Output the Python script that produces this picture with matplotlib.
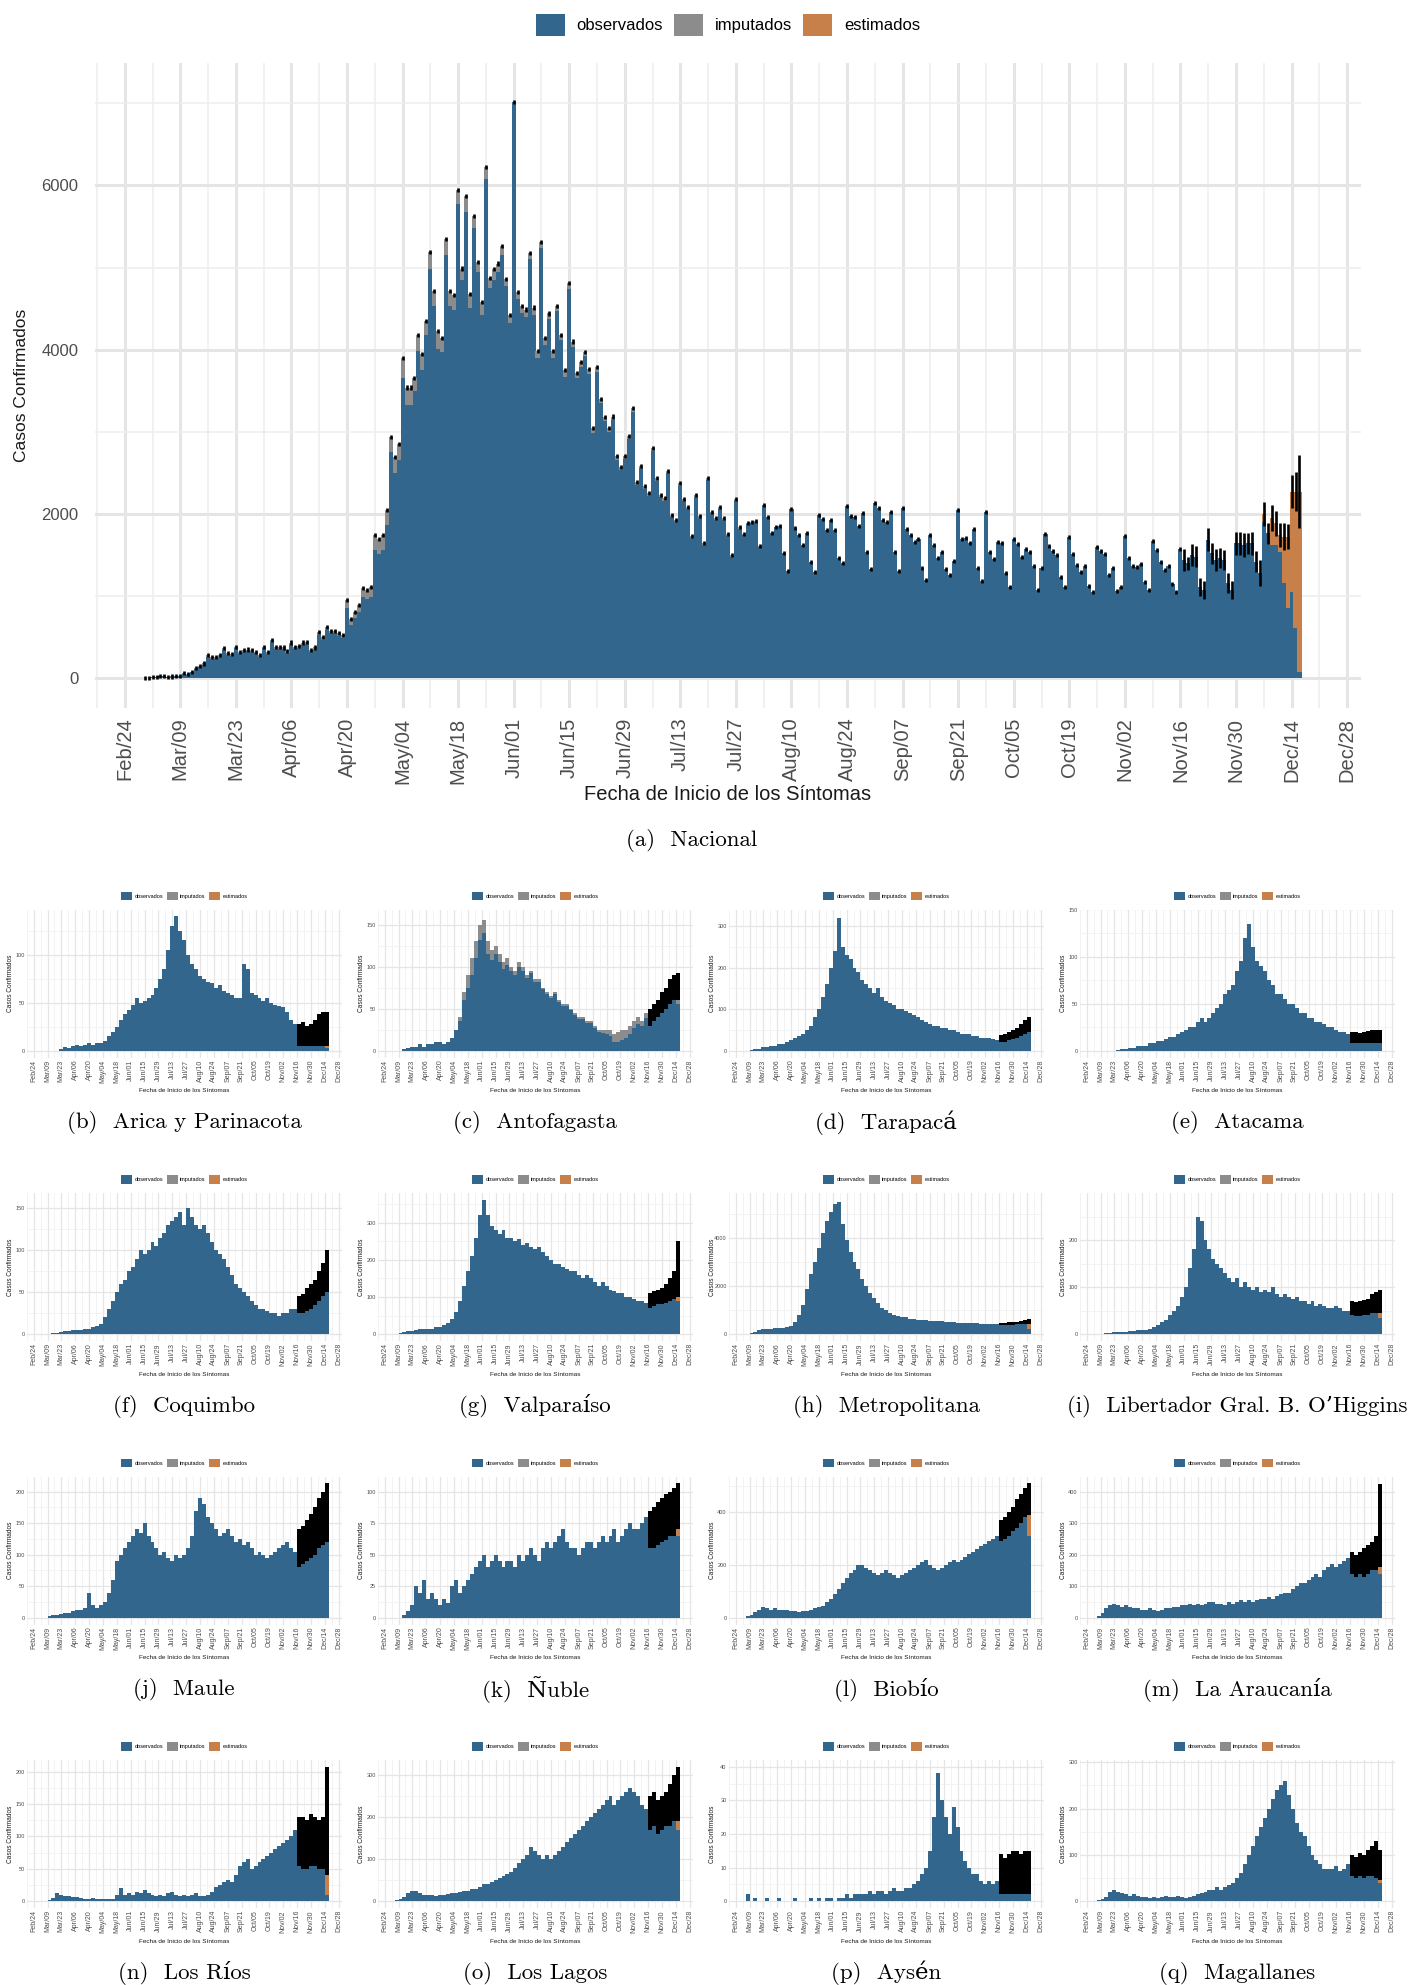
import numpy as np
import matplotlib.pyplot as plt
from matplotlib.patches import Patch

plt.rcParams['font.family'] = ['Liberation Sans', 'DejaVu Sans']

BLUE = '#33668C'
GRAY = '#8C8C8C'
ORANGE = '#C8804A'
TXT = '#4D4D4D'
SERIF = ['cmr10', 'DejaVu Serif']

# eje x: dias desde el 24 de febrero de 2020
tick_labels = ['Feb/24', 'Mar/09', 'Mar/23', 'Apr/06', 'Apr/20', 'May/04', 'May/18',
               'Jun/01', 'Jun/15', 'Jun/29', 'Jul/13', 'Jul/27', 'Aug/10', 'Aug/24',
               'Sep/07', 'Sep/21', 'Oct/05', 'Oct/19', 'Nov/02', 'Nov/16', 'Nov/30',
               'Dec/14', 'Dec/28']
legend_labels = ['observados', 'imputados', 'estimados']

# ---- Nacional: casos diarios (observados + imputados), desde Feb/29 (dia 5) a Dec/16
nac_first_day = 5
nac_total = [
    5, 8, 10, 12, 25, 30, 20, 22, 25, 30, 60, 50, 80, 120, 145, 180, 280,
    255, 255, 285, 365, 305, 295, 385, 315, 345, 350, 345, 325, 280, 385, 320, 466,
    385, 385, 375, 335, 435, 385, 395, 435, 445, 340, 375, 560, 500, 628, 580, 580,
    548, 528, 953, 722, 811, 893, 1095, 1075, 1115, 1745, 1692, 1745, 2049, 2941,
    2690, 2850,
    3895, 3539, 3539, 3658, 4180, 3943, 4346, 5187, 4717, 4228, 4147, 5344, 4712,
    4669, 5947, 4988, 5866, 4679, 5629, 5068, 4584, 6223, 4878, 4978, 5049, 5258,
    4859, 4418, 7020, 4703, 4536, 4489, 5178, 4513, 3981, 5306, 4147, 4441, 3981,
    4536, 4180, 3753, 4812,
    4099, 3721, 3855, 3977, 3762, 3044, 3786, 3397, 3177, 3052, 3186, 2707, 2577,
    2707, 2950, 3287, 2394, 2589, 2341, 2252, 2800, 2435, 2232, 2191, 2528, 1988,
    1928, 2374, 2179, 2082, 1733, 2232, 1976, 1652, 2435, 2029, 1948, 2082, 1948,
    1753, 1501, 2179, 1838, 1757, 1887, 1907, 1919, 1611,
    2110, 1960, 1773, 1846, 1859, 1522, 1311, 2061, 1826, 1745, 1623, 1765, 1420,
    1299, 1988, 1936, 1806, 1928, 1806, 1461, 1400, 2098, 1976, 1960, 1859, 2009,
    1542, 1327, 2130, 2070, 1928, 1907, 2021, 1542, 1311, 2078, 1814, 1745, 1656,
    1696, 1339, 1197, 1745, 1623, 1461, 1542, 1327, 1258, 1428, 2049,
    1696, 1704, 1652, 1818, 1347, 1185, 2029, 1542, 1453, 1664, 1643, 1286, 1116,
    1696, 1635, 1481, 1570, 1542, 1372, 1075, 1339, 1757, 1615, 1554, 1501, 1230,
    1108, 1725, 1514, 1380, 1290, 1367, 1124, 1055, 1603, 1554, 1514, 1258, 1339,
    1067, 1108, 1733, 1469, 1372, 1359, 1388, 1169, 1075,
    1676, 1562, 1420, 1319, 1367, 1148, 1047, 1574, 1440, 1400, 1500, 1480, 1116,
    1075, 1684, 1522, 1440, 1461, 1440, 1156, 1075, 1643, 1643, 1623, 1643, 1643,
    1420, 1278, 1900, 1765, 1623, 1623, 1542, 1157, 852, 1055, 609, 73,
]
# imputados (dias 5 a 160)
nac_imp = [
    0, 0, 0, 0, 2, 3, 2, 3, 3, 4, 6, 5, 8, 10, 12, 15,
    20, 20, 22, 25, 22, 20, 25, 22, 22, 25, 22, 22, 20, 25, 22, 30, 25, 25, 25, 22,
    30, 25, 25, 30, 30, 25, 25, 35, 30, 40, 35, 35, 35, 35, 35,
    100, 73, 80, 90, 110, 110, 120, 183, 183, 183, 183, 183, 190, 190,
    237, 214, 214, 166, 190, 190, 166, 200, 180, 214, 180, 190, 176, 180, 176, 143,
    190, 166, 143, 128, 166, 143, 128, 133, 109, 105, 86, 95, 0, 80, 95, 86, 80, 95,
    86, 71, 86, 71, 86, 71, 62, 80, 76,
    65, 60, 60, 55, 60, 55, 55, 50, 50, 50, 45, 45, 45, 40, 40, 40, 40, 35, 35, 35,
    35, 35, 30, 30, 30, 30, 30, 30, 25, 25, 25, 25, 25, 25, 20, 20, 20, 20, 20, 20,
    20, 20, 15, 15, 15, 15, 15, 15,
]
# estimados (ultimos 10 dias)
nac_est = [100, 0, 325, 264, 203, 568, 870, 1217, 1663, 2199]
# semiamplitud del intervalo (ultimos 31 dias)
nac_err = [30, 130, 80, 130, 130, 110, 110, 140, 130, 130, 120, 120, 120, 110, 140,
           140, 150, 130, 140, 130, 160, 150, 130, 160, 150, 150, 160, 150, 200, 240, 440]

# ---- Regiones: bloques de 4 dias desde Mar/01 (dia 6), 73 bloques
reg_first_day = 6
reg_step = 4

arica_obs = [0, 0, 0, 0, 0, 2, 4, 3, 5, 6, 5, 6, 8, 6, 8, 8, 10, 15, 20, 25,
             32, 38, 42, 48, 55, 50, 52, 55, 58, 65, 75, 85, 105, 130, 140, 125, 115, 100, 90, 85,
             78, 75, 72, 70, 65, 68, 62, 60, 58, 55, 55, 90, 85, 60, 58, 55, 52, 55, 50, 48,
             47, 45, 40, 32, 28, 10, 8, 8, 7, 8, 8, 10, 8]
arica_lo = [5, 5, 5, 5, 5, 5, 5, 5]
arica_hi = [28, 30, 26, 28, 32, 38, 40, 40]

antof_obs = [0, 0, 0, 2, 3, 5, 5, 8, 5, 8, 8, 10, 10, 8, 10, 15, 25, 40, 70, 90,
             110, 130, 150, 155, 130, 120, 125, 115, 105, 110, 100, 95, 105, 100, 90, 95, 85, 85, 75, 70,
             65, 70, 60, 55, 55, 50, 45, 40, 40, 35, 35, 30, 25, 25, 25, 25, 20, 22, 25, 25,
             30, 35, 40, 35, 45, 40, 45, 50, 55, 60, 70, 75, 80]
antof_imp = [0, 0, 0, 0, 0, 0, 0, 0, 0, 0, 0, 0, 0, 0, 0, 0, 0, 5, 10, 15,
             20, 20, 18, 15, 15, 12, 10, 10, 8, 8, 5, 5, 5, 5, 3, 3, 3, 3, 2, 2,
             2, 2, 2, 2, 2, 2, 2, 2, 2, 2, 2, 3, 3, 4, 5, 8, 10, 12, 12, 10,
             10, 8, 8, 6, 6, 5, 5, 5, 5, 5, 5, 5, 5]
antof_lo = [30, 35, 40, 45, 50, 55, 60, 60]
antof_hi = [50, 55, 60, 70, 75, 85, 90, 92]

tarap_obs = [0, 0, 2, 5, 5, 8, 10, 12, 12, 15, 15, 20, 25, 30, 35, 40, 50, 60, 80, 100,
             130, 160, 200, 240, 320, 250, 230, 220, 200, 190, 170, 160, 150, 140, 150, 130, 120, 115, 110, 100,
             100, 95, 90, 85, 80, 75, 70, 65, 60, 60, 55, 55, 50, 50, 45, 40, 40, 40, 35, 35,
             30, 30, 30, 28, 25, 30, 30, 35, 40, 40, 45, 55, 70]
tarap_lo = [22, 22, 25, 28, 30, 35, 40, 45]
tarap_hi = [38, 40, 45, 50, 55, 65, 75, 80]

atac_obs = [0, 0, 0, 0, 0, 0, 1, 2, 2, 3, 3, 5, 5, 5, 8, 8, 10, 10, 12, 15,
            15, 18, 20, 22, 25, 25, 30, 35, 30, 35, 40, 45, 50, 60, 65, 70, 85, 95, 120, 135,
            110, 95, 90, 85, 75, 70, 60, 60, 55, 50, 50, 45, 40, 40, 35, 35, 30, 30, 28, 25,
            25, 22, 20, 20, 18, 15, 15, 14, 15, 15, 15, 16, 16]
atac_lo = [8, 8, 8, 8, 8, 8, 8, 8]
atac_hi = [20, 20, 19, 20, 21, 22, 22, 22]

coq_obs = [0, 0, 0, 1, 2, 3, 4, 4, 5, 5, 5, 6, 6, 8, 10, 12, 20, 30, 40, 50,
           60, 65, 75, 80, 90, 100, 95, 100, 110, 105, 115, 120, 130, 135, 140, 145, 130, 150, 140, 130,
           125, 130, 120, 110, 100, 95, 90, 80, 70, 60, 55, 50, 45, 40, 35, 30, 30, 28, 25, 25,
           22, 25, 25, 30, 30, 35, 35, 40, 45, 50, 55, 65, 80]
coq_lo = [25, 25, 28, 30, 35, 40, 45, 50]
coq_hi = [45, 48, 55, 60, 65, 75, 85, 100]

valp_obs = [0, 0, 2, 5, 8, 10, 12, 15, 15, 15, 15, 20, 20, 25, 30, 40, 60, 90, 130, 170,
            210, 260, 320, 360, 320, 290, 280, 270, 280, 260, 260, 250, 255, 240, 245, 235, 230, 235, 220, 210,
            200, 190, 190, 180, 175, 170, 170, 160, 150, 160, 150, 140, 130, 140, 130, 120, 115, 110, 110, 100,
            100, 95, 90, 90, 85, 90, 95, 100, 100, 110, 120, 130, 150]
valp_lo = [70, 75, 80, 80, 85, 90, 95, 100]
valp_hi = [110, 115, 120, 125, 135, 150, 170, 250]

metro_obs = [5, 20, 50, 100, 180, 200, 220, 230, 240, 250, 270, 300, 350, 500, 800, 1200, 1900, 2500, 3000, 3600,
             4200, 4700, 5100, 5400, 5500, 4600, 3900, 3400, 3000, 2700, 2300, 2000, 1700, 1500, 1300, 1100, 1000, 900, 800, 750,
             700, 700, 650, 650, 600, 600, 600, 550, 550, 550, 550, 520, 500, 500, 480, 480, 470, 460, 450, 450,
             440, 430, 430, 420, 420, 420, 430, 440, 450, 460, 480, 500, 520]
metro_lo = [380, 390, 400, 400, 410, 420, 430, 440]
metro_hi = [470, 480, 490, 500, 520, 550, 580, 620]

ohig_obs = [0, 0, 1, 2, 3, 4, 5, 5, 5, 6, 6, 8, 8, 10, 12, 15, 20, 25, 30, 40,
            50, 60, 80, 100, 140, 180, 250, 240, 200, 180, 160, 150, 140, 130, 120, 110, 120, 100, 110, 100,
            95, 100, 90, 95, 90, 100, 85, 80, 85, 80, 75, 80, 70, 70, 65, 70, 60, 65, 60, 55,
            55, 60, 55, 50, 50, 55, 50, 50, 55, 55, 60, 60, 65]
ohig_lo = [40, 38, 38, 40, 40, 45, 45, 45]
ohig_hi = [70, 68, 70, 72, 75, 85, 90, 95]

maule_obs = [0, 0, 2, 4, 5, 6, 8, 8, 10, 12, 12, 15, 40, 20, 15, 20, 25, 40, 60, 90,
             100, 110, 120, 130, 140, 135, 150, 130, 120, 110, 100, 105, 95, 90, 100, 95, 100, 110, 130, 170,
             190, 180, 160, 150, 140, 130, 135, 140, 130, 120, 125, 115, 120, 110, 100, 105, 100, 95, 100, 105,
             110, 115, 120, 110, 105, 110, 115, 120, 130, 140, 150, 160, 180]
maule_lo = [80, 85, 90, 95, 100, 110, 115, 120]
maule_hi = [140, 145, 155, 165, 175, 190, 200, 213]

nuble_obs = [0, 0, 0, 2, 5, 10, 25, 20, 30, 15, 20, 15, 10, 15, 12, 25, 30, 20, 25, 30,
             35, 40, 45, 50, 40, 45, 50, 45, 40, 45, 45, 40, 50, 45, 50, 55, 50, 45, 55, 60,
             55, 60, 65, 70, 60, 55, 55, 50, 55, 60, 60, 55, 60, 65, 60, 65, 70, 60, 65, 70,
             75, 70, 70, 75, 80, 70, 75, 75, 80, 80, 85, 85, 95]
nuble_lo = [55, 55, 58, 60, 62, 65, 65, 70]
nuble_hi = [85, 88, 92, 95, 98, 100, 103, 107]

biobio_obs = [0, 5, 10, 20, 30, 40, 35, 30, 35, 30, 30, 30, 25, 25, 20, 25, 25, 30, 35, 40,
              45, 60, 70, 90, 110, 130, 150, 170, 180, 200, 200, 190, 180, 170, 160, 170, 180, 170, 160, 150,
              160, 170, 180, 190, 200, 210, 220, 200, 190, 180, 190, 200, 210, 220, 210, 220, 230, 240, 250, 260,
              270, 280, 290, 300, 310, 330, 340, 360, 380, 400, 420, 440, 460]
biobio_lo = [290, 300, 310, 330, 340, 360, 380, 390]
biobio_hi = [370, 380, 400, 420, 450, 470, 490, 510]

arauc_obs = [0, 5, 15, 30, 40, 45, 40, 35, 40, 35, 30, 30, 25, 25, 30, 25, 20, 25, 30, 30,
             35, 35, 40, 40, 45, 40, 45, 40, 45, 50, 50, 45, 45, 40, 50, 45, 50, 55, 50, 55,
             50, 55, 60, 60, 65, 60, 70, 75, 80, 80, 90, 100, 110, 110, 120, 130, 140, 130, 150, 160,
             170, 160, 170, 180, 190, 180, 170, 180, 170, 180, 190, 200, 220]
arauc_lo = [140, 130, 140, 130, 140, 150, 150, 160]
arauc_hi = [210, 200, 210, 220, 230, 240, 260, 425]

rios_obs = [0, 1, 2, 5, 12, 10, 8, 8, 7, 6, 5, 4, 4, 5, 4, 3, 4, 3, 4, 10,
            20, 10, 12, 10, 14, 12, 18, 12, 10, 8, 10, 8, 12, 14, 10, 8, 10, 8, 10, 12,
            8, 8, 10, 15, 22, 25, 30, 32, 30, 40, 55, 60, 65, 50, 55, 60, 65, 70, 75, 80,
            85, 90, 95, 100, 110, 100, 90, 85, 80, 85, 80, 75, 70]
rios_lo = [55, 50, 50, 55, 55, 50, 50, 40]
rios_hi = [130, 130, 125, 135, 130, 125, 130, 207]

lagos_obs = [0, 2, 5, 10, 20, 25, 25, 20, 15, 15, 15, 12, 15, 15, 18, 20, 20, 22, 25, 25,
             30, 30, 35, 40, 40, 45, 50, 55, 60, 65, 70, 80, 90, 100, 110, 130, 120, 110, 100, 110,
             100, 110, 120, 130, 140, 150, 160, 170, 180, 190, 200, 210, 220, 230, 240, 250, 230, 240, 250, 260,
             270, 260, 250, 230, 220, 210, 220, 200, 210, 220, 230, 240, 250]
lagos_lo = [170, 180, 160, 170, 180, 180, 190, 190]
lagos_hi = [250, 260, 240, 250, 260, 280, 300, 320]

aysen_obs = [0, 2, 0, 1, 0, 0, 1, 0, 0, 1, 0, 0, 0, 1, 0, 0, 0, 1, 0, 1,
             0, 1, 1, 0, 1, 1, 2, 1, 2, 2, 2, 2, 3, 2, 3, 3, 2, 3, 4, 3,
             3, 4, 4, 5, 6, 8, 10, 15, 25, 38, 30, 25, 20, 28, 22, 15, 12, 10, 8, 8,
             6, 5, 6, 5, 6, 7, 6, 6, 7, 8, 7, 8, 8]
aysen_lo = [2, 2, 2, 2, 2, 2, 2, 2]
aysen_hi = [14, 13, 14, 15, 15, 14, 15, 15]

magal_obs = [0, 2, 5, 10, 20, 25, 20, 18, 15, 12, 15, 12, 10, 10, 8, 10, 8, 10, 12, 10,
             10, 12, 10, 8, 10, 12, 15, 18, 20, 25, 25, 30, 25, 30, 35, 40, 50, 60, 80, 100,
             120, 140, 160, 180, 200, 220, 240, 250, 260, 230, 200, 170, 150, 140, 120, 100, 90, 80, 70, 70,
             70, 75, 65, 70, 80, 75, 70, 80, 70, 75, 80, 70, 60]
magal_lo = [55, 50, 55, 50, 55, 55, 50, 45]
magal_hi = [100, 95, 105, 100, 110, 120, 130, 110]

# (titulo, total, imputados, minimo y maximo del intervalo final, estimado del ultimo bloque,
#  techo, marcas y)
regions = [
    ('(b)  Arica y Parinacota', arica_obs, None, arica_lo, arica_hi, 5, 147, [0, 50, 100]),
    ('(c)  Antofagasta', antof_obs, antof_imp, antof_lo, antof_hi, 20, 168, [0, 50, 100, 150]),
    ('(d)  Tarapacá', tarap_obs, None, tarap_lo, tarap_hi, 15, 340, [0, 100, 200, 300]),
    ('(e)  Atacama', atac_obs, None, atac_lo, atac_hi, 5, 150, [0, 50, 100, 150]),
    ('(f)  Coquimbo', coq_obs, None, coq_lo, coq_hi, 30, 168, [0, 50, 100, 150]),
    ('(g)  Valparaíso', valp_obs, None, valp_lo, valp_hi, 60, 380, [0, 100, 200, 300]),
    ('(h)  Metropolitana', metro_obs, None, metro_lo, metro_hi, 300, 5870, [0, 2000, 4000]),
    ('(i)  Libertador Gral. B. O’Higgins', ohig_obs, None, ohig_lo, ohig_hi, 30, 300, [0, 100, 200]),
    ('(j)  Maule', maule_obs, None, maule_lo, maule_hi, 60, 224, [0, 50, 100, 150, 200]),
    ('(k)  Ñuble', nuble_obs, None, nuble_lo, nuble_hi, 30, 112, [0, 25, 50, 75, 100]),
    ('(l)  Biobío', biobio_obs, None, biobio_lo, biobio_hi, 150, 535, [0, 200, 400]),
    ('(m)  La Araucanía', arauc_obs, None, arauc_lo, arauc_hi, 80, 448, [0, 100, 200, 300, 400]),
    ('(n)  Los Ríos', rios_obs, None, rios_lo, rios_hi, 60, 218, [0, 50, 100, 150, 200]),
    ('(o)  Los Lagos', lagos_obs, None, lagos_lo, lagos_hi, 80, 336, [0, 100, 200, 300]),
    ('(p)  Aysén', aysen_obs, None, aysen_lo, aysen_hi, 2, 42, [0, 10, 20, 30, 40]),
    ('(q)  Magallanes', magal_obs, None, magal_lo, magal_hi, 20, 305, [0, 100, 200, 300]),
]

W, H = 1409, 1985
fig = plt.figure(figsize=(W / 100, H / 100), dpi=100)


def box(left, top, width, height):
    return [left / W, 1 - (top + height) / H, width / W, height / H]


def style_axis(ax, xlim, ylim, yticks, xsize, ysize, lw_major, lw_minor, xpad, ypad):
    major_days = np.arange(0, 14 * len(tick_labels), 14)
    ax.set_xticks(major_days)
    ax.set_xticklabels(tick_labels, rotation=90, fontsize=xsize, color=TXT)
    ax.set_xticks(np.append(major_days - 7, major_days[-1] + 7), minor=True)
    ax.set_yticks(yticks)
    ax.set_yticklabels([str(v) for v in yticks], fontsize=ysize, color=TXT)
    step = yticks[1] - yticks[0]
    ax.set_yticks(np.append(np.array(yticks) - step / 2, yticks[-1] + step / 2), minor=True)
    # ticks can widen the view, so the limits go last
    ax.set_xlim(*xlim)
    ax.set_ylim(*ylim)
    ax.grid(which='major', color='#E5E5E5', lw=lw_major)
    ax.grid(which='minor', color='#EEEEEE', lw=lw_minor)
    ax.set_axisbelow(True)
    ax.tick_params(which='both', length=0)
    ax.tick_params(axis='x', pad=xpad)
    ax.tick_params(axis='y', pad=ypad)
    for s in ax.spines.values():
        s.set_visible(False)


handles = [Patch(facecolor=c, edgecolor='none') for c in (BLUE, GRAY, ORANGE)]

# ---------------- Panel nacional
ax = fig.add_axes(box(95, 63, 1266, 645))
n = len(nac_total)
days = nac_first_day + np.arange(n)
imp = np.zeros(n)
imp[:len(nac_imp)] = nac_imp
est = np.zeros(n)
est[-len(nac_est):] = nac_est
obs = np.array(nac_total) - imp
top = obs + imp + est
err = np.full(n, 25.0)
err[-len(nac_err):] = nac_err
ax.bar(days, obs, width=1.02, color=BLUE, lw=0)
ax.bar(days, imp, bottom=obs, width=1.02, color=GRAY, lw=0)
ax.bar(days, est, bottom=obs + imp, width=1.02, color=ORANGE, lw=0)
ax.vlines(days, top - err, top + err, color='black', lw=1.9)
style_axis(ax, (-7.5, 311.5), (-362, 7490), [0, 2000, 4000, 6000], 14.5, 12, 2.2, 1.1, 7, 12)
fig.text(728 / W, 1 - 795 / H, 'Fecha de Inicio de los Síntomas', ha='center', va='center',
         fontsize=14.5, color='#1A1A1A')
fig.text(22 / W, 1 - 385 / H, 'Casos Confirmados', rotation=90, ha='center', va='center',
         fontsize=12.5, color='#1A1A1A')
fig.text(692 / W, 1 - 841 / H, '(a)  Nacional', ha='center', va='center',
         fontsize=16.5, family=SERIF)
fig.legend(handles, legend_labels, loc='center', bbox_to_anchor=(728 / W, 1 - 25 / H), ncol=3,
           frameon=False, fontsize=12, handlelength=1.74, handleheight=1.74,
           handletextpad=0.72, columnspacing=0.66)

# ---------------- Paneles regionales
PW, PH = 315, 148
for i, (title, vals, imp_r, lo, hi, est_last, ytop, yticks) in enumerate(regions):
    r, c = divmod(i, 4)
    left = 26.7 + 351 * c
    topy = 909.5 + 283.5 * r
    ax = fig.add_axes(box(left, topy, PW, PH))
    vals = np.array(vals, dtype=float)
    m = len(vals)
    x = reg_first_day + reg_step * np.arange(m)
    g = np.zeros(m) if imp_r is None else np.array(imp_r, dtype=float)
    e = np.zeros(m)
    e[-1] = est_last
    ob = vals - e - g
    ax.bar(x, ob, width=reg_step, align='edge', color=BLUE, lw=0)
    ax.bar(x, g, bottom=ob, width=reg_step, align='edge', color=GRAY, lw=0)
    ax.bar(x, e, bottom=ob + g, width=reg_step, align='edge', color=ORANGE, lw=0)
    k = len(hi)
    ax.bar(x[-k:], np.array(hi) - np.array(lo), bottom=lo, width=reg_step, align='edge',
           color='black', lw=0)
    style_axis(ax, (-7, 311), (-0.048 * ytop, ytop), yticks, 5, 4, 0.9, 0.5, 1.5, 1.5)
    ax.legend(handles, legend_labels, loc='center', bbox_to_anchor=(0.5, 1 + 13.5 / PH), ncol=3,
              frameon=False, fontsize=4, handlelength=2.0, handleheight=2.0,
              handletextpad=0.43, columnspacing=0.6)
    cx = (left + PW / 2) / W
    fig.text(cx, 1 - (topy + 181) / H, 'Fecha de Inicio de los Síntomas', ha='center',
             va='center', fontsize=4.6, color='#1A1A1A')
    fig.text((left - 16.5) / W, 1 - (topy + PH / 2) / H, 'Casos Confirmados', rotation=90,
             ha='center', va='center', fontsize=4.7, color='#1A1A1A')
    fig.text(cx, 1 - (topy + 213) / H, title, ha='center', va='center', fontsize=16.5,
             family=SERIF)

fig.savefig('out.png', dpi=100, facecolor='white')
